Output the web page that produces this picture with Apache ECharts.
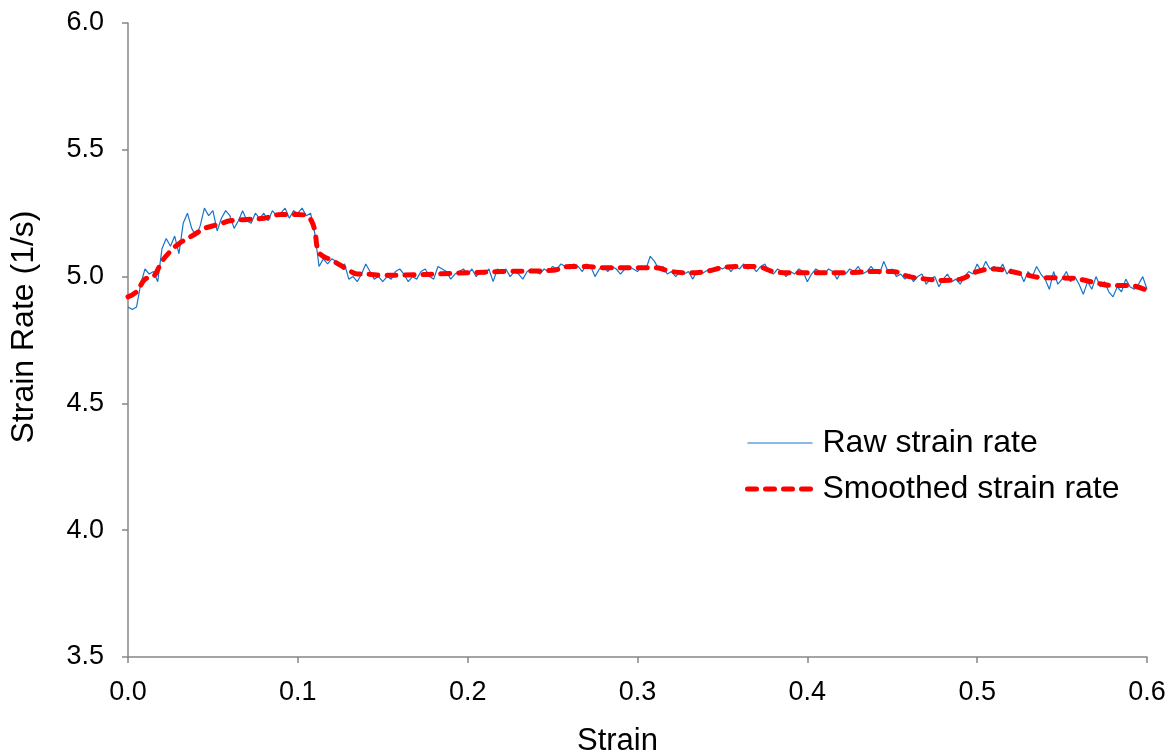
<!DOCTYPE html>
<html>
<head>
<meta charset="utf-8">
<script src="https://cdn.jsdelivr.net/npm/echarts@6/dist/echarts.min.js"></script>
<style>html,body{margin:0;padding:0;background:#fff}#c{width:1172px;height:752px}</style>
</head>
<body>
<div id="c"></div>
<script>
// Raw strain rate, sampled every 0.0025 strain from 0 to 0.6
var rawStep = 0.0025;
var rawY = [
4.88,4.87,4.88,4.97,5.03,5.01,5.02,4.98,5.11,5.15,
5.12,5.16,5.09,5.21,5.25,5.19,5.16,5.20,5.27,5.24,
5.26,5.18,5.23,5.26,5.24,5.19,5.22,5.26,5.22,5.21,
5.25,5.23,5.25,5.22,5.26,5.24,5.25,5.27,5.23,5.26,
5.25,5.27,5.24,5.25,5.17,5.04,5.07,5.05,5.07,5.06,
5.04,5.05,4.99,5.00,4.98,5.01,5.05,5.02,4.99,5.00,
4.98,5.00,4.99,5.02,5.03,5.01,4.98,5.00,4.99,5.02,
5.03,5.00,4.99,5.04,5.03,5.02,4.99,5.01,5.02,5.03,
5.01,5.03,5.00,5.02,5.01,5.03,4.98,5.03,5.02,5.03,
5.00,5.02,5.01,4.99,5.02,5.03,5.02,5.01,5.03,5.02,
5.04,5.03,5.05,5.04,5.03,5.05,5.04,5.02,5.05,5.04,
5.00,5.03,5.04,5.02,5.04,5.03,5.01,5.03,5.04,5.03,
5.02,5.04,5.03,5.08,5.06,5.03,5.04,5.01,5.02,5.00,
5.02,5.01,5.02,4.99,5.02,5.01,5.02,5.03,5.02,5.04,
5.03,5.04,5.02,5.04,5.03,5.05,5.03,5.04,5.02,5.04,
5.05,5.02,5.01,5.03,5.02,5.00,5.02,5.01,5.03,5.02,
4.98,5.01,5.03,5.02,5.01,5.03,5.02,4.99,5.02,5.01,
5.03,5.02,5.04,5.01,5.02,5.04,5.02,5.01,5.06,5.02,
5.03,5.00,5.01,4.99,5.01,4.98,5.00,5.01,4.97,4.99,
5.00,4.96,4.99,5.01,4.98,4.99,4.97,5.00,5.02,5.01,
5.05,5.02,5.06,5.03,5.04,5.02,5.05,5.01,5.03,5.01,
5.02,4.98,5.02,5.00,5.04,5.01,4.99,4.95,5.02,4.97,
4.99,5.02,4.98,5.00,4.97,4.93,4.98,4.95,5.00,4.96,
4.98,4.94,4.92,4.96,4.94,4.99,4.96,4.95,4.97,5.00,
4.95
];
// Smoothed strain rate
var smoothX = [0,0.005,0.01,0.015,0.02,0.025,0.03,0.035,0.04,0.045,0.05,0.055,0.06,0.07,0.08,0.09,0.1,0.105,0.108,0.11,0.112,0.115,0.12,0.125,0.13,0.135,0.14,0.15,0.2,0.22,0.25,0.26,0.27,0.28,0.3,0.31,0.32,0.33,0.34,0.35,0.36,0.37,0.38,0.39,0.4,0.42,0.44,0.45,0.46,0.47,0.48,0.49,0.5,0.51,0.52,0.53,0.54,0.55,0.56,0.57,0.58,0.59,0.6];
var smoothY = [4.92,4.94,4.99,5.00,5.06,5.10,5.13,5.15,5.17,5.19,5.20,5.21,5.22,5.225,5.23,5.245,5.245,5.24,5.22,5.18,5.10,5.08,5.065,5.045,5.025,5.01,5.01,5.005,5.015,5.02,5.025,5.04,5.04,5.035,5.035,5.035,5.02,5.015,5.02,5.035,5.04,5.04,5.02,5.015,5.015,5.015,5.02,5.02,5.0,4.99,4.985,4.99,5.02,5.03,5.02,5.005,4.995,4.995,4.99,4.975,4.965,4.965,4.945];
var xTicks = [0,0.1,0.2,0.3,0.4,0.5,0.6];
var yTicks = [3.5,4.0,4.5,5.0,5.5,6.0];
var seriesNames = ['Raw strain rate','Smoothed strain rate'];

var rawData = rawY.map(function(v,i){return [+(i*rawStep).toFixed(4), v];});
var smoothData = smoothX.map(function(x,i){return [x, smoothY[i]];});

var font = 'Liberation Sans, Arial, sans-serif';
var axisCol = '#868686';
var rawStyle = {color:'#1874C8',width:1.2};
var smoothStyle = {color:'#FF0000',width:5,type:[9,9],cap:'round'};
var hidden = {color:'rgba(0,0,0,0)',borderColor:'rgba(0,0,0,0)',borderWidth:0};
var chart = echarts.init(document.getElementById('c'), null, {renderer:'canvas'});
chart.setOption({
  animation:false,
  backgroundColor:'#ffffff',
  grid:{left:128,right:25,top:23,bottom:95,containLabel:false,outerBoundsMode:'none'},
  legend:{
    orient:'vertical', left:740, top:422,
    itemWidth:65, itemHeight:14, itemGap:14,
    textStyle:{fontFamily:font,fontSize:32,color:'#000',padding:[0,0,0,5]},
    data:[
      {name:seriesNames[0], lineStyle:rawStyle, itemStyle:hidden},
      {name:seriesNames[1], lineStyle:smoothStyle, itemStyle:hidden}
    ]
  },
  xAxis:{
    type:'value', min:xTicks[0], max:xTicks[xTicks.length-1], interval:0.1,
    name:'Strain', nameLocation:'middle', nameGap:69,
    nameTextStyle:{fontFamily:font,fontSize:31,color:'#000',padding:[0,40,0,0]},
    axisLine:{show:true,lineStyle:{color:axisCol,width:1.5}},
    axisTick:{show:true,length:6,lineStyle:{color:axisCol,width:1.5}},
    axisLabel:{fontFamily:font,fontSize:27,color:'#000',margin:22,formatter:function(v){return v.toFixed(1);}},
    splitLine:{show:false}
  },
  yAxis:{
    type:'value', min:yTicks[0], max:yTicks[yTicks.length-1], interval:0.5,
    name:'Strain Rate (1/s)', nameLocation:'middle', nameGap:88,
    nameTextStyle:{fontFamily:font,fontSize:32,color:'#000',padding:[0,0,0,26]},
    axisLine:{show:true,lineStyle:{color:axisCol,width:1.5}},
    axisTick:{show:true,length:6,lineStyle:{color:axisCol,width:1.5}},
    axisLabel:{fontFamily:font,fontSize:27,color:'#000',margin:24,formatter:function(v){return v.toFixed(1);}},
    splitLine:{show:false}
  },
  series:[
    {name:seriesNames[0], type:'line', data:rawData, symbol:'none',
     lineStyle:rawStyle, itemStyle:{color:'#1874C8'}, z:2},
    {name:seriesNames[1], type:'line', data:smoothData, symbol:'none', smooth:0.4,
     lineStyle:smoothStyle, itemStyle:{color:'#FF0000'}, z:3}
  ]
});
</script>
</body>
</html>
